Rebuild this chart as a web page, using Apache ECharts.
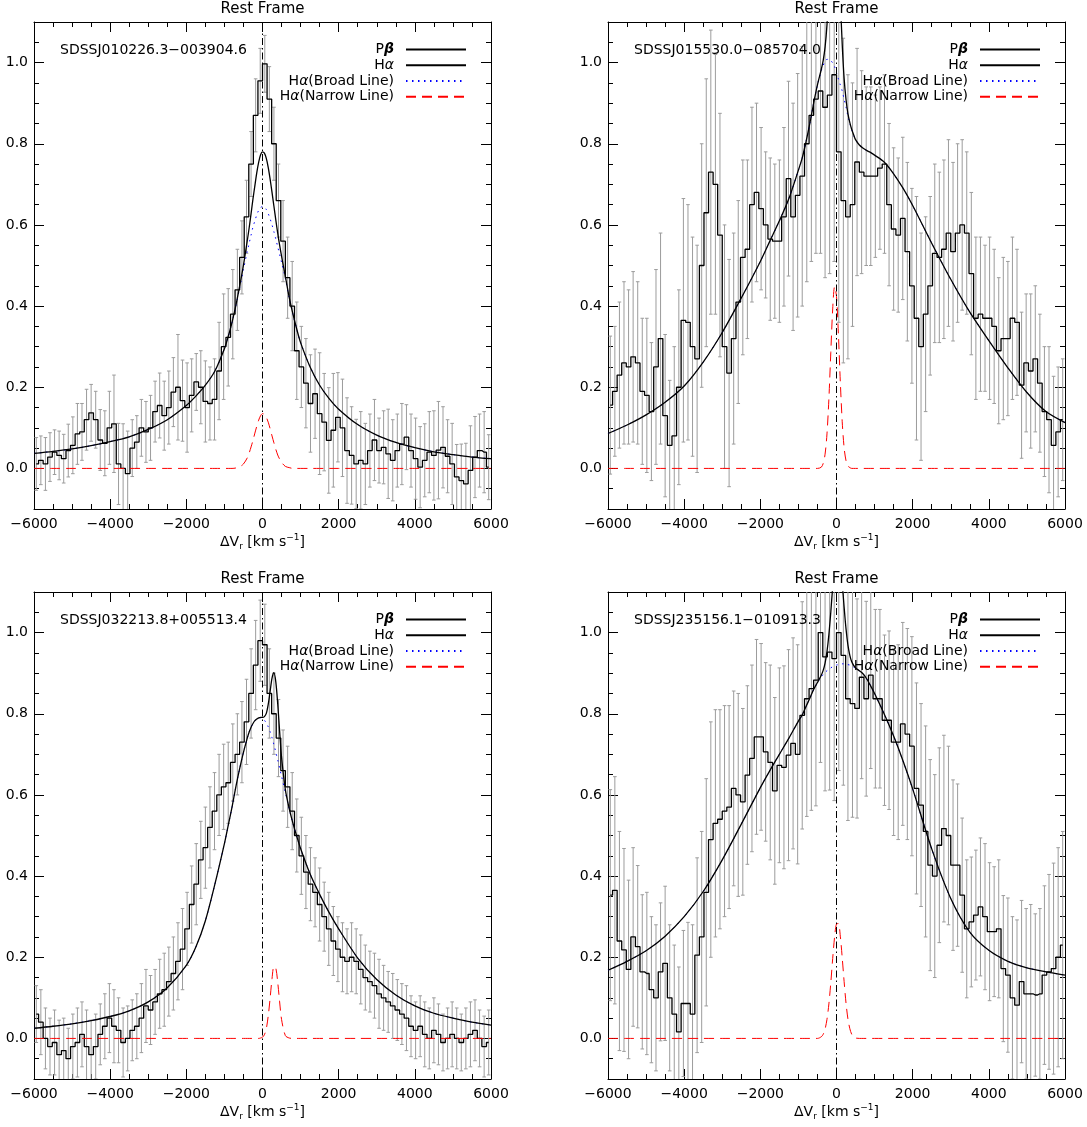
<!DOCTYPE html>
<html>
<head>
<meta charset="utf-8">
<title>Pβ vs Hα line profiles</title>
<script src="https://cdn.jsdelivr.net/npm/echarts@6/dist/echarts.min.js"></script>
<style>
  html, body { margin: 0; padding: 0; background: #fff; }
  #chart { width: 1087px; height: 1127px; }
</style>
</head>
<body>
<div id="chart"></div>
<script>
// Velocity bin centres of the Pβ spectra (km/s)
const binCenters = [
  -5940,-5820,-5700,-5580,-5460,-5340,-5220,-5100,-4980,-4860,
  -4740,-4620,-4500,-4380,-4260,-4140,-4020,-3900,-3780,-3660,
  -3540,-3420,-3300,-3180,-3060,-2940,-2820,-2700,-2580,-2460,
  -2340,-2220,-2100,-1980,-1860,-1740,-1620,-1500,-1380,-1260,
  -1140,-1020,-900,-780,-660,-540,-420,-300,-180,-60,
  60,180,300,420,540,660,780,900,1020,1140,
  1260,1380,1500,1620,1740,1860,1980,2100,2220,2340,
  2460,2580,2700,2820,2940,3060,3180,3300,3420,3540,
  3660,3780,3900,4020,4140,4260,4380,4500,4620,4740,
  4860,4980,5100,5220,5340,5460,5580,5700,5820,5940
];

// Velocity grid of the Hα model profiles (km/s)
const modelV = [
  -6000,-5500,-5000,-4500,-4000,-3500,-3000,-2500,-2000,-1750,
  -1500,-1250,-1000,-900,-800,-700,-600,-500,-400,-350,
  -300,-250,-200,-150,-100,-50,0,50,100,150,
  200,250,300,350,400,450,500,600,700,800,
  900,1000,1250,1500,1750,2000,2500,3000,3500,4000,
  4500,5000,5500,6000
];

// ---- SDSSJ010226.3-003904.6 ----
const p1Flux = [
  0.011,0.02,0.011,0.028,0.04,0.032,0.024,0.044,0.057,0.085,
  0.09,0.12,0.137,0.12,0.07,0.062,0.10,0.11,0.011,0.0,
  -0.013,0.05,0.065,0.10,0.09,0.10,0.14,0.155,0.13,0.15,
  0.188,0.20,0.167,0.15,0.18,0.213,0.20,0.165,0.16,0.17,
  0.24,0.30,0.323,0.38,0.44,0.52,0.62,0.75,0.87,0.955,
  0.997,0.91,0.80,0.66,0.56,0.47,0.40,0.29,0.25,0.21,
  0.16,0.184,0.135,0.114,0.069,0.094,0.126,0.10,0.044,0.032,
  0.011,0.02,0.011,0.044,0.07,0.044,0.052,0.036,0.02,0.044,
  0.06,0.077,0.044,0.024,0.003,0.02,0.04,0.032,0.045,0.052,
  0.03,0.011,-0.021,-0.03,-0.038,-0.005,0.028,0.044,0.04,0.003
];
const p1Err = [
  0.065,0.06,0.065,0.06,0.055,0.06,0.06,0.065,0.07,0.075,
  0.07,0.075,0.07,0.07,0.075,0.08,0.09,0.12,0.10,0.11,
  0.105,0.07,0.065,0.07,0.075,0.08,0.075,0.08,0.085,0.09,
  0.085,0.13,0.10,0.11,0.09,0.07,0.09,0.10,0.09,0.10,
  0.12,0.13,0.12,0.11,0.10,0.09,0.09,0.08,0.09,0.08,
  0.07,0.08,0.09,0.09,0.10,0.10,0.11,0.12,0.10,0.11,
  0.12,0.11,0.15,0.12,0.13,0.14,0.11,0.12,0.13,0.12,
  0.11,0.12,0.10,0.09,0.10,0.08,0.09,0.11,0.10,0.09,
  0.10,0.08,0.09,0.10,0.10,0.09,0.10,0.11,0.12,0.10,
  0.09,0.10,0.08,0.09,0.10,0.11,0.10,0.09,0.10,0.08
];
const p1Broad = [
  0.037,0.042,0.048,0.056,0.066,0.078,0.096,0.12,0.155,0.178,
  0.205,0.24,0.295,0.325,0.36,0.40,0.445,0.49,0.535,0.555,
  0.575,0.595,0.61,0.625,0.636,0.643,0.645,0.644,0.638,0.628,
  0.615,0.60,0.583,0.565,0.546,0.527,0.508,0.468,0.42,0.38,
  0.343,0.31,0.25,0.205,0.172,0.146,0.108,0.082,0.064,0.051,
  0.041,0.034,0.028,0.024
];
const p1Narrow = [
  0,0,0,0,0,0,0,0,0,0,
  0,0,0,0,0,0.001,0.004,0.011,0.026,0.038,
  0.053,0.069,0.087,0.104,0.119,0.130,0.135,0.133,0.126,0.114,
  0.098,0.080,0.063,0.047,0.033,0.023,0.015,0.005,0.002,0,
  0,0,0,0,0,0,0,0,0,0,
  0,0,0,0
];

// ---- SDSSJ015530.0-085704.0 ----
const p2Flux = [
  0.156,0.19,0.23,0.26,0.25,0.275,0.26,0.19,0.18,0.14,
  0.25,0.32,0.13,0.057,0.08,0.20,0.365,0.36,0.30,0.27,
  0.50,0.63,0.73,0.70,0.575,0.30,0.235,0.32,0.41,0.52,
  0.54,0.65,0.68,0.64,0.60,0.565,0.56,0.56,0.62,0.714,
  0.62,0.673,0.72,0.80,0.87,0.91,0.93,0.89,0.92,0.97,
  0.78,0.66,0.62,0.65,0.755,0.73,0.72,0.72,0.72,0.74,
  0.75,0.65,0.59,0.575,0.616,0.534,0.45,0.37,0.30,0.38,
  0.45,0.53,0.52,0.54,0.58,0.534,0.58,0.60,0.58,0.48,
  0.37,0.38,0.37,0.37,0.35,0.29,0.32,0.32,0.37,0.36,
  0.205,0.26,0.24,0.27,0.21,0.14,0.12,0.057,0.09,0.12
];
const p2Err = [
  0.17,0.16,0.18,0.20,0.19,0.21,0.20,0.18,0.19,0.17,
  0.24,0.26,0.20,0.16,0.22,0.24,0.30,0.29,0.27,0.28,
  0.30,0.33,0.35,0.32,0.30,0.30,0.28,0.26,0.25,0.24,
  0.22,0.24,0.22,0.20,0.18,0.20,0.19,0.20,0.22,0.24,
  0.28,0.30,0.32,0.34,0.36,0.38,0.40,0.42,0.44,0.46,
  0.42,0.40,0.35,0.30,0.28,0.25,0.22,0.22,0.20,0.20,
  0.22,0.20,0.20,0.19,0.20,0.22,0.24,0.30,0.28,0.24,
  0.22,0.22,0.21,0.22,0.23,0.22,0.22,0.21,0.20,0.20,
  0.20,0.19,0.18,0.20,0.19,0.18,0.20,0.19,0.20,0.18,
  0.18,0.17,0.19,0.18,0.17,0.16,0.18,0.17,0.16,0.15
];
const p2Broad = [
  0.086,0.107,0.132,0.163,0.203,0.262,0.335,0.42,0.51,0.56,
  0.61,0.665,0.735,0.765,0.805,0.85,0.90,0.945,0.98,0.993,
  1.003,1.008,1.008,1.005,0.999,0.99,0.975,0.96,0.945,0.93,
  0.91,0.89,0.868,0.85,0.835,0.822,0.81,0.797,0.789,0.783,
  0.778,0.772,0.755,0.726,0.69,0.648,0.555,0.466,0.385,0.315,
  0.248,0.187,0.14,0.113
];
const p2Narrow = [
  0,0,0,0,0,0,0,0,0,0,
  0,0,0,0,0,0,0,0,0.003,0.012,
  0.035,0.085,0.171,0.285,0.393,0.448,0.424,0.331,0.214,0.115,
  0.051,0.019,0.006,0.002,0,0,0,0,0,0,
  0,0,0,0,0,0,0,0,0,0,
  0,0,0,0
];

// ---- SDSSJ032213.8+005513.4 ----
const p3Flux = [
  0.06,0.04,0.0,-0.02,-0.01,-0.04,-0.03,-0.05,-0.02,-0.01,
  0.01,-0.02,-0.04,-0.02,0.01,0.03,0.05,0.03,0.02,-0.01,
  0.0,0.02,0.03,0.05,0.08,0.07,0.09,0.11,0.12,0.14,
  0.16,0.19,0.22,0.27,0.33,0.38,0.44,0.47,0.52,0.56,
  0.60,0.62,0.63,0.68,0.70,0.73,0.78,0.85,0.92,0.98,
  0.97,0.85,0.80,0.74,0.66,0.62,0.56,0.50,0.45,0.41,
  0.38,0.36,0.33,0.30,0.27,0.24,0.22,0.20,0.19,0.20,
  0.19,0.17,0.15,0.14,0.13,0.11,0.10,0.09,0.08,0.07,
  0.06,0.05,0.03,0.02,0.03,0.01,0.0,0.02,0.01,-0.01,
  0.0,0.01,0.0,-0.01,0.0,0.01,0.02,0.0,-0.02,-0.01
];
const p3Err = [
  0.07,0.08,0.075,0.07,0.08,0.085,0.08,0.075,0.08,0.085,
  0.08,0.09,0.085,0.08,0.075,0.08,0.085,0.09,0.08,0.085,
  0.08,0.075,0.08,0.085,0.09,0.085,0.08,0.085,0.09,0.085,
  0.09,0.095,0.10,0.09,0.095,0.10,0.095,0.10,0.10,0.095,
  0.10,0.105,0.10,0.095,0.10,0.10,0.105,0.11,0.11,0.10,
  0.10,0.11,0.10,0.095,0.10,0.10,0.095,0.09,0.095,0.09,
  0.09,0.085,0.09,0.085,0.09,0.085,0.08,0.085,0.08,0.085,
  0.08,0.085,0.08,0.075,0.08,0.085,0.08,0.075,0.08,0.075,
  0.075,0.08,0.075,0.07,0.075,0.08,0.075,0.08,0.075,0.07,
  0.075,0.08,0.075,0.07,0.075,0.08,0.075,0.07,0.075,0.08
];
const p3Broad = [
  0.025,0.030,0.036,0.044,0.054,0.068,0.09,0.125,0.18,0.225,
  0.29,0.38,0.48,0.525,0.57,0.62,0.665,0.705,0.74,0.755,
  0.767,0.776,0.783,0.787,0.79,0.79,0.788,0.784,0.777,0.768,
  0.756,0.741,0.724,0.705,0.686,0.666,0.646,0.606,0.566,0.53,
  0.498,0.468,0.405,0.355,0.31,0.27,0.198,0.145,0.107,0.08,
  0.062,0.05,0.04,0.033
];
const p3Narrow = [
  0,0,0,0,0,0,0,0,0,0,
  0,0,0,0,0,0,0,0,0,0,
  0,0,0,0,0,0.001,0.003,0.009,0.024,0.055,
  0.099,0.147,0.177,0.173,0.138,0.090,0.047,0.007,0.001,0,
  0,0,0,0,0,0,0,0,0,0,
  0,0,0,0
];

// ---- SDSSJ235156.1-010913.3 ----
const p4Flux = [
  0.353,0.365,0.24,0.218,0.17,0.25,0.226,0.164,0.16,0.12,
  0.10,0.164,0.185,0.10,0.06,0.016,0.086,0.086,0.06,0.205,
  0.25,0.36,0.49,0.53,0.54,0.56,0.57,0.616,0.60,0.583,
  0.649,0.69,0.743,0.743,0.706,0.68,0.61,0.673,0.668,0.698,
  0.727,0.70,0.796,0.837,0.862,0.883,1.0,0.94,0.952,0.936,
  1.0,0.944,0.837,0.825,0.813,0.89,0.837,0.895,0.837,0.837,
  0.784,0.784,0.73,0.73,0.775,0.75,0.72,0.616,0.575,0.51,
  0.427,0.40,0.476,0.517,0.50,0.427,0.427,0.353,0.27,0.287,
  0.304,0.324,0.30,0.263,0.263,0.27,0.172,0.156,0.10,0.082,
  0.14,0.11,0.11,0.107,0.11,0.156,0.164,0.172,0.20,0.23
];
const p4Err = [
  0.26,0.28,0.27,0.25,0.22,0.22,0.20,0.19,0.20,0.18,
  0.18,0.17,0.19,0.18,0.17,0.16,0.18,0.20,0.22,0.24,
  0.26,0.28,0.29,0.28,0.27,0.26,0.25,0.24,0.25,0.23,
  0.22,0.23,0.24,0.23,0.22,0.24,0.23,0.24,0.25,0.26,
  0.26,0.27,0.28,0.29,0.30,0.31,0.32,0.33,0.34,0.35,
  0.34,0.32,0.30,0.28,0.27,0.25,0.24,0.23,0.22,0.22,
  0.21,0.22,0.23,0.24,0.25,0.26,0.27,0.26,0.25,0.26,
  0.26,0.25,0.24,0.23,0.22,0.21,0.20,0.19,0.17,0.16,
  0.16,0.17,0.18,0.17,0.16,0.17,0.18,0.19,0.20,0.21,
  0.20,0.21,0.22,0.20,0.21,0.22,0.24,0.26,0.27,0.28
];
const p4Broad = [
  0.168,0.19,0.216,0.252,0.30,0.362,0.44,0.528,0.618,0.66,
  0.70,0.74,0.782,0.797,0.818,0.838,0.86,0.877,0.891,0.897,
  0.902,0.906,0.91,0.913,0.916,0.918,0.92,0.921,0.922,0.923,
  0.923,0.922,0.921,0.92,0.918,0.915,0.912,0.906,0.898,0.885,
  0.868,0.85,0.80,0.745,0.683,0.615,0.467,0.345,0.262,0.217,
  0.19,0.174,0.164,0.156
];
const p4Narrow = [
  0,0,0,0,0,0,0,0,0,0,
  0,0,0,0,0,0,0,0,0.004,0.010,
  0.023,0.047,0.085,0.137,0.197,0.250,0.282,0.283,0.252,0.199,
  0.140,0.087,0.048,0.024,0.010,0.004,0.001,0,0,0,
  0,0,0,0,0,0,0,0,0,0,
  0,0,0,0
];

const objectNames = [
  'SDSSJ010226.3\u2212003904.6',
  'SDSSJ015530.0\u2212085704.0',
  'SDSSJ032213.8+005513.4',
  'SDSSJ235156.1\u2212010913.3'
];
const xTickValues = [-6000, -4000, -2000, 0, 2000, 4000, 6000];
const yTickValues = [0, 0.2, 0.4, 0.6, 0.8, 1.0];
const legendNames = ['P\u03b2', 'H\u03b1', 'H\u03b1(Broad Line)', 'H\u03b1(Narrow Line)'];

const panels = [
  { flux: p1Flux, err: p1Err, broad: p1Broad, narrow: p1Narrow },
  { flux: p2Flux, err: p2Err, broad: p2Broad, narrow: p2Narrow },
  { flux: p3Flux, err: p3Err, broad: p3Broad, narrow: p3Narrow },
  { flux: p4Flux, err: p4Err, broad: p4Broad, narrow: p4Narrow }
];

// ---- layout ----
const FONT = 'DejaVu Sans';
const PW = 457, PH = 487;
const boxes = [
  { left: 34, top: 22 }, { left: 608, top: 22 },
  { left: 34, top: 592 }, { left: 608, top: 592 }
];
const ERR_COLOR = '#9c9c9c';

const grid = [], xAxis = [], yAxis = [], series = [], legend = [], graphic = [];

const minus = s => String(s).replace('-', '\u2212');

boxes.forEach((b, g) => {
  grid.push({ left: b.left, top: b.top, width: PW, height: PH, containLabel: false });

  const xCommon = {
    gridIndex: g, type: 'value', min: -6000, max: 6000, interval: 2000,
    axisLine: { show: true, onZero: false, lineStyle: { color: '#000', width: 1 } },
    axisTick: { show: true, inside: true, length: 10, lineStyle: { color: '#000', width: 1 } },
    minorTick: { show: true, splitNumber: 4, length: 5, lineStyle: { color: '#000', width: 1 } },
    splitLine: { show: false }, minorSplitLine: { show: false }
  };
  xAxis.push(Object.assign({}, xCommon, {
    position: 'bottom',
    axisLabel: {
      show: true, color: '#000', fontSize: 14, fontFamily: FONT, margin: 8,
      customValues: xTickValues, formatter: v => minus(v)
    },
    name: '{a|\u0394V}{s|r}{a| [km s}{p|\u22121}{a|]}',
    nameLocation: 'middle', nameGap: 24,
    nameTextStyle: {
      color: '#000',
      rich: {
        a: { fontSize: 14, fontFamily: FONT, color: '#000', lineHeight: 18 },
        s: { fontSize: 9, fontFamily: FONT, color: '#000', lineHeight: 11, verticalAlign: 'bottom' },
        p: { fontSize: 9, fontFamily: FONT, color: '#000', lineHeight: 11, verticalAlign: 'top' }
      }
    }
  }));
  xAxis.push(Object.assign({}, xCommon, { position: 'top', axisLabel: { show: false } }));

  const yMinor = {
    gridIndex: g, type: 'value', min: -0.1, max: 1.1, interval: 0.05,
    axisLine: { show: true, onZero: false, lineStyle: { color: '#000', width: 1 } },
    axisTick: { show: true, inside: true, length: 5, lineStyle: { color: '#000', width: 1 } },
    splitLine: { show: false }
  };
  const yMajor = {
    gridIndex: g, type: 'value', min: -0.1, max: 1.1,
    axisLine: { show: false, onZero: false },
    axisTick: { show: true, inside: true, length: 10, customValues: yTickValues, lineStyle: { color: '#000', width: 1 } },
    splitLine: { show: false }
  };
  yAxis.push(Object.assign({}, yMinor, { position: 'left', axisLabel: { show: false } }));
  yAxis.push(Object.assign({}, yMajor, {
    position: 'left',
    axisLabel: { show: true, customValues: yTickValues, color: '#000', fontSize: 14, fontFamily: FONT, margin: 6,
      formatter: v => v.toFixed(1) }
  }));
  yAxis.push(Object.assign({}, yMinor, { position: 'right', axisLabel: { show: false } }));
  yAxis.push(Object.assign({}, yMajor, { position: 'right', axisLabel: { show: false } }));

  const p = panels[g];
  const xi = 2 * g, yi = 4 * g;

  // error bars
  series.push({
    type: 'custom', xAxisIndex: xi, yAxisIndex: yi, clip: true, silent: true, z: 1,
    data: binCenters.map((v, i) => [v, p.flux[i], p.err[i]]),
    renderItem: (params, api) => {
      const cs = params.coordSys;
      const x = api.value(0), y = api.value(1), e = api.value(2);
      const hi = api.coord([x, y + e]);
      const lo = api.coord([x, y - e]);
      const top = Math.max(hi[1], cs.y), bot = Math.min(lo[1], cs.y + cs.height);
      const st = { stroke: ERR_COLOR, lineWidth: 1 };
      const kids = [];
      if (bot > top) kids.push({ type: 'line', shape: { x1: hi[0], y1: top, x2: hi[0], y2: bot }, style: st });
      const cap = 1.8;
      if (hi[1] >= cs.y) kids.push({ type: 'line', shape: { x1: hi[0] - cap, y1: hi[1], x2: hi[0] + cap, y2: hi[1] }, style: st });
      if (lo[1] <= cs.y + cs.height) kids.push({ type: 'line', shape: { x1: lo[0] - cap, y1: lo[1], x2: lo[0] + cap, y2: lo[1] }, style: st });
      return { type: 'group', children: kids };
    }
  });

  // Pβ spectrum as a histogram
  series.push({
    name: legendNames[0], type: 'line', xAxisIndex: xi, yAxisIndex: yi, step: 'middle',
    symbol: 'none', clip: true, z: 2,
    lineStyle: { color: '#000', width: 1.3 }, itemStyle: { color: '#000' },
    data: binCenters.map((v, i) => [v, p.flux[i]]),
    markLine: {
      silent: true, symbol: ['none', 'none'], label: { show: false },
      lineStyle: { color: '#000', width: 1, type: [7, 3, 1.5, 3] },
      emphasis: { disabled: true },
      data: [{ xAxis: 0 }]
    }
  });

  // Hα narrow component
  series.push({
    name: legendNames[3], type: 'line', xAxisIndex: xi, yAxisIndex: yi, symbol: 'none', clip: true, z: 3,
    smooth: 0.3,
    lineStyle: { color: '#ff0000', width: 1, type: [10, 6] }, itemStyle: { color: '#ff0000' },
    data: modelV.map((v, i) => [v, p.narrow[i]])
  });
  // Hα broad component
  series.push({
    name: legendNames[2], type: 'line', xAxisIndex: xi, yAxisIndex: yi, symbol: 'none', clip: true, z: 3,
    smooth: 0.3,
    lineStyle: { color: '#0000ff', width: 1, type: [1.5, 4.5] }, itemStyle: { color: '#0000ff' },
    data: modelV.map((v, i) => [v, p.broad[i]])
  });
  // Hα total = broad + narrow
  series.push({
    name: legendNames[1], type: 'line', xAxisIndex: xi, yAxisIndex: yi, symbol: 'none', clip: true, z: 4,
    smooth: 0.3,
    lineStyle: { color: '#000', width: 1.3 }, itemStyle: { color: '#000' },
    data: modelV.map((v, i) => [v, p.broad[i] + p.narrow[i]])
  });

  // legend rows, right-aligned with the sample line on the right
  const rowY = [27.5, 43.3, 59, 74.8];
  legendNames.forEach((nm, r) => {
    legend.push({
      data: [nm], orient: 'horizontal', align: 'right', selectedMode: false,
      right: 1087 - (b.left + 433), top: b.top + rowY[r] - 7,
      itemWidth: 60, itemHeight: 14, itemGap: 0, padding: 0,
      itemStyle: { opacity: 0, borderWidth: 0 },
      formatter: name => name.replace('\u03b2', '{b|\u03b2}').replace('\u03b1', '{g|\u03b1}'),
      textStyle: {
        color: '#000', fontSize: 14, fontFamily: FONT, padding: [0, 7, 0, 0],
        rich: {
          b: { fontSize: 14, fontFamily: FONT, fontStyle: 'italic', fontWeight: 'bold', color: '#000' },
          g: { fontSize: 14, fontFamily: FONT, fontStyle: 'italic', color: '#000' }
        }
      }
    });
  });

  graphic.push({
    type: 'text', x: b.left + PW / 2, y: b.top - 13, silent: true,
    style: { text: 'Rest Frame', fontSize: 15, fontFamily: FONT, fill: '#000',
      align: 'center', verticalAlign: 'middle', textAlign: 'center', textVerticalAlign: 'middle' }
  });
  graphic.push({
    type: 'text', x: b.left + 26, y: b.top + 28, silent: true, z: 10,
    style: { text: objectNames[g], fontSize: 14, fontFamily: FONT, fill: '#000',
      align: 'left', verticalAlign: 'middle', textAlign: 'left', textVerticalAlign: 'middle' }
  });
});

const chart = echarts.init(document.getElementById('chart'), null, { renderer: 'canvas' });
chart.setOption({
  animation: false,
  backgroundColor: '#fff',
  textStyle: { fontFamily: FONT },
  grid, xAxis, yAxis, series, legend, graphic
});
</script>
</body>
</html>
